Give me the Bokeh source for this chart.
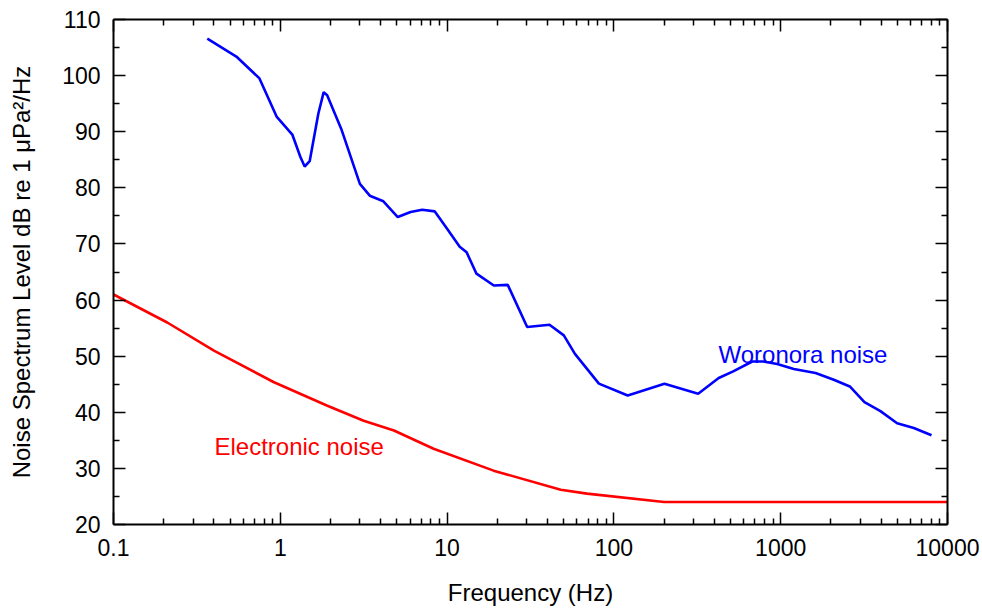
from bokeh.plotting import figure
from bokeh.models import (LogAxis, LinearAxis, FixedTicker, PrintfTickFormatter, Label, Range1d)
from bokeh.embed import file_html
from bokeh.resources import INLINE

# ---- data ----
woronora_freq = [0.365, 0.545, 0.75, 0.95, 1.18, 1.32, 1.40, 1.50, 1.69, 1.82, 1.91, 2.32, 3.0, 3.44,
                 4.15, 5.06, 6.04, 7.09, 8.44, 10.0, 11.9, 13.1, 15.0, 19.05, 23.1, 30.2, 41.1,
                 50.1, 58.4, 81.3, 121, 201, 320, 425, 519, 675, 785, 953, 1198, 1618, 2081,
                 2596, 3178, 3963, 4989, 6281, 8020]
woronora_level = [106.6, 103.4, 99.5, 92.7, 89.5, 85.5, 83.8, 84.75, 93.2, 97.05, 96.5, 90.5, 80.7, 78.6,
                  77.6, 74.8, 75.7, 76.1, 75.8, 72.7, 69.5, 68.5, 64.7, 62.6, 62.7, 55.2, 55.6,
                  53.7, 50.4, 45.1, 43.0, 45.1, 43.3, 46.1, 47.3, 49.05, 49.05, 48.6, 47.7, 47.0, 45.8,
                  44.6, 41.8, 40.2, 38.05, 37.2, 35.9]

electronic_freq = [0.1, 0.21, 0.40, 0.91, 1.9, 3.16, 4.8, 8.3, 19.0, 48.0, 69.0, 200.0, 10000.0]
electronic_level = [61.0, 56.0, 51.0, 45.4, 41.2, 38.5, 36.75, 33.5, 29.6, 26.2, 25.5, 24.0, 24.0]

x_major = [0.1, 1, 10, 100, 1000, 10000]
x_minor = [m * d for d in [0.1, 1, 10, 100, 1000] for m in range(2, 10)]
y_major = [20, 30, 40, 50, 60, 70, 80, 90, 100, 110]
y_minor = [25, 35, 45, 55, 65, 75, 85, 95, 105]

FONT = "Liberation Sans"

p = figure(width=982, height=609, x_axis_type="log",
           x_range=Range1d(0.1, 10000), y_range=Range1d(20, 110),
           output_backend="svg", toolbar_location=None,
           min_border_left=113, min_border_right=35, min_border_top=19, min_border_bottom=85)
p.xgrid.visible = False
p.ygrid.visible = False
p.outline_line_color = None
p.background_fill_color = "white"
p.border_fill_color = "white"

p.line(woronora_freq, woronora_level, line_color="#0000ff", line_width=2.6)
p.line(electronic_freq, electronic_level, line_color="#ff0000", line_width=2.6)

xt = FixedTicker(ticks=x_major, minor_ticks=x_minor)
yt = FixedTicker(ticks=y_major, minor_ticks=y_minor)


def style(ax, show_labels):
    ax.axis_line_width = 2
    ax.axis_line_color = "black"
    ax.major_tick_in = 12
    ax.major_tick_out = 0
    ax.minor_tick_in = 6
    ax.minor_tick_out = 0
    ax.major_tick_line_width = 1.5
    ax.minor_tick_line_width = 1.5
    ax.major_tick_line_color = "black"
    ax.minor_tick_line_color = "black"
    if show_labels:
        ax.major_label_text_font = FONT
        ax.major_label_text_font_size = "23px"
        ax.major_label_text_color = "black"
        ax.axis_label_text_font = FONT
        ax.axis_label_text_font_size = "24px"
        ax.axis_label_text_font_style = "normal"
        ax.axis_label_text_color = "black"
    else:
        ax.major_label_text_font_size = "1px"
        ax.major_label_text_alpha = 0
        ax.major_label_standoff = 0


xa = p.xaxis[0]
xa.ticker = xt
xa.formatter = PrintfTickFormatter(format="%g")
xa.axis_label = "Frequency (Hz)"
style(xa, True)
xa.major_label_standoff = 14
xa.axis_label_standoff = 20

ya = p.yaxis[0]
ya.ticker = yt
ya.axis_label = "Noise Spectrum Level dB re 1 \u03bcPa\u00b2/Hz"
style(ya, True)
ya.major_label_standoff = 13
ya.axis_label_standoff = 24

top = LogAxis(ticker=xt)
style(top, False)
p.add_layout(top, "above")

right = LinearAxis(ticker=yt)
style(right, False)
p.add_layout(right, "right")

p.add_layout(Label(x=423.6, y=50.3, text="Woronora noise", text_color="#0000ff",
                   text_font=FONT, text_font_size="24px", text_baseline="alphabetic"))
p.add_layout(Label(x=0.403, y=33.9, text="Electronic noise", text_color="#ff0000",
                   text_font=FONT, text_font_size="24px", text_baseline="alphabetic"))

open("out.html", "w").write(file_html(p, INLINE))
